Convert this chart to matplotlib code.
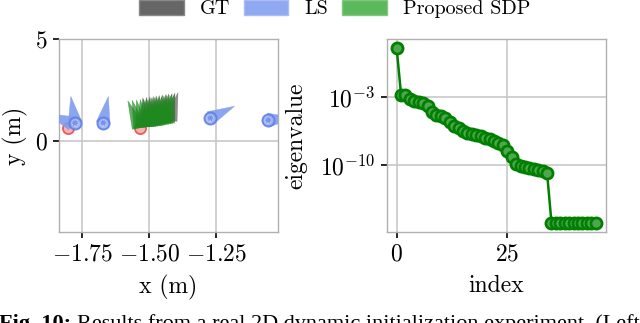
import numpy as np
import matplotlib
matplotlib.use("Agg")
import matplotlib.pyplot as plt
from matplotlib.patches import Patch
from matplotlib.collections import PolyCollection
from matplotlib.transforms import IdentityTransform

plt.rcParams['font.family'] = 'serif'
plt.rcParams['font.serif'] = ['cmr10']
plt.rcParams['mathtext.fontset'] = 'cm'
plt.rcParams['axes.formatter.use_mathtext'] = True
plt.rcParams['axes.unicode_minus'] = True

# ---------------- data ----------------
# LS poses (x, y in m; heading in screen degrees)
ls_x = [-1.790, -1.777, -1.672, -1.273, -1.057]
ls_y = [0.85, 0.87, 0.87, 1.11, 1.01]
ls_theta = [158, 99, 79, 26, 5]

# GT poses
gt_x = [-1.515, -1.507, -1.498, -1.489, -1.481, -1.472, -1.463, -1.454, -1.446, -1.437, -1.428, -1.420]
gt_y = [0.74, 0.76, 0.78, 0.80, 0.83, 0.85, 0.88, 0.91, 0.94, 0.97, 1.00, 1.03]
gt_theta = [95, 92, 90, 88, 86, 85, 83, 81, 80, 78, 77, 75]

# Proposed SDP poses
sdp_x = [-1.541, -1.535, -1.528, -1.521, -1.514, -1.507, -1.500, -1.493,
         -1.486, -1.479, -1.472, -1.465, -1.458, -1.451, -1.444, -1.437, -1.430]
sdp_y = [0.68, 0.66, 0.65, 0.66, 0.67, 0.69, 0.70, 0.72, 0.74, 0.76, 0.78,
         0.80, 0.83, 0.85, 0.88, 0.90, 0.93]
sdp_theta = [112, 106, 101, 97, 94, 92, 90, 89, 87, 86, 85, 84, 83, 82, 80, 79, 77]

# start markers
start_x = [-1.803, -1.534]
start_y = [0.62, 0.62]

# eigenvalues (log10)
eig_log10 = [2.1, -2.7, -2.75, -3.2, -3.35, -3.45, -3.6, -3.9, -4.5, -4.85,
             -4.95, -5.1, -5.5, -5.9, -6.2, -6.5, -6.7, -6.8, -6.9, -7.0,
             -7.15, -7.3, -7.45, -7.7, -7.95, -8.5, -9.1, -9.9, -10.1, -10.2,
             -10.25, -10.35, -10.45, -10.6, -10.8,
             -15.95, -15.95, -15.95, -15.95, -15.95, -15.95, -15.95, -15.95,
             -15.95, -15.95, -15.95]
eig_index = np.arange(len(eig_log10))
eigvals = 10.0 ** np.array(eig_log10)

legend_labels = ["GT", "LS", "Proposed SDP"]
caption_bold = "Fig. 10:"
caption_rest = "Results from a real 2D dynamic initialization experiment. (Left"

# ---------------- figure ----------------
fig = plt.figure(figsize=(6.4, 3.23), dpi=100)
FS = 17
SPINE = '#b0b0b0'
GRID = '#c8c8c8'

ax1 = fig.add_axes([0.0917, 0.2817, 0.434 - 0.0917, 0.880 - 0.2817])
ax2 = fig.add_axes([0.6042, 0.2817, 0.9464 - 0.6042, 0.880 - 0.2817])


def arrows(ax, xs, ys, th, color, alpha, z, L, W):
    verts = []
    for t in np.deg2rad(np.asarray(th, dtype=float)):
        d = np.array([np.cos(t), np.sin(t)])
        n = np.array([-np.sin(t), np.cos(t)])
        verts.append([n * W / 2, d * L, -n * W / 2])
    pc = PolyCollection(verts, offsets=np.column_stack([xs, ys]),
                        offset_transform=ax.transData,
                        transform=IdentityTransform(),
                        facecolor=color, edgecolor=color, linewidth=0.3,
                        alpha=alpha, zorder=z)
    ax.add_collection(pc, autolim=False)


ax1.set_xlim(-1.838, -1.021)
ax1.set_ylim(-4.475, 5)

ax1.scatter(start_x, start_y, s=65, facecolor='#f7a5a5', edgecolor='#ee4444',
            linewidth=1.3, zorder=2, alpha=0.85)
arrows(ax1, gt_x, gt_y, gt_theta, '#555555', 0.65, 3, 28, 13)
arrows(ax1, sdp_x, sdp_y, sdp_theta, '#1f8a1f', 0.7, 4, 28, 13)
arrows(ax1, ls_x, ls_y, ls_theta, '#7f9cee', 0.9, 5, 27, 14)
ax1.scatter(ls_x[1:], ls_y[1:], s=75, facecolor='#9db3f2', edgecolor='#5f7fe6',
            linewidth=1.4, zorder=6, alpha=0.9)
ax1.scatter(ls_x[1:], ls_y[1:], s=18, facecolor='#6f8ce8', edgecolor='#ffffff',
            linewidth=0.6, zorder=6, alpha=0.8, linestyle=':')

ax1.set_xticks([-1.75, -1.50, -1.25])
ax1.set_yticks([0, 5])
ax1.set_xticklabels([r'$-1.75$', r'$-1.50$', r'$-1.25$'])
ax1.set_yticklabels([r'$0$', r'$5$'])
ax1.set_xlabel('x (m)', fontsize=FS, labelpad=7)
ax1.set_ylabel('y (m)', fontsize=FS, labelpad=5)

ax2.plot(eig_index, eigvals, color='#008000', linewidth=1.8, marker='o',
         markersize=8, markerfacecolor='#4ea64e', markeredgecolor='#008000',
         markeredgewidth=2, zorder=3)
ax2.set_yscale('log')
ax2.set_xlim(-2.25, 47.25)
ax2.set_ylim(10 ** -16.9, 10 ** 3.07)
ax2.set_xticks([0, 25])
ax2.set_yticks([1e-3, 1e-10])
ax2.yaxis.set_minor_locator(matplotlib.ticker.NullLocator())
ax2.set_yticklabels([r'$10^{-3}$', r'$10^{-10}$'])
ax2.set_xlabel('index', fontsize=FS, labelpad=7)
ax2.set_ylabel('eigenvalue', fontsize=FS, labelpad=9)

for ax in (ax1, ax2):
    ax.grid(True, color=GRID, linewidth=1.2, zorder=0)
    ax.set_axisbelow(True)
    for s in ax.spines.values():
        s.set_color(SPINE)
        s.set_linewidth(1.0)
    ax.tick_params(labelsize=FS, length=4, width=1.2, color='black', pad=4)

handles = [Patch(facecolor='#666666', edgecolor='#888888'),
           Patch(facecolor='#8fa8f0', edgecolor='#aabbf5'),
           Patch(facecolor='#5cb85c', edgecolor='#80c880')]
fig.legend(handles, legend_labels, loc='center', bbox_to_anchor=(0.523, 0.972),
           ncol=3, frameon=False, fontsize=14.5, handlelength=2.2,
           handleheight=0.78, handletextpad=0.8, columnspacing=0.7)

# caption (cut off at bottom, as in the reference)
CFS = 16
base_y = 1 - 328.5 / 323
t1 = fig.text(-0.002, base_y, caption_bold, fontsize=CFS, fontweight='bold',
              family='Liberation Serif', va='baseline', ha='left')
r = fig.canvas.get_renderer()
bb = t1.get_window_extent(renderer=r)
x2 = (bb.x1 + 6) / fig.bbox.width
fig.text(x2, base_y, caption_rest, fontsize=CFS, family='Liberation Serif',
         va='baseline', ha='left')

fig.savefig('out.png', dpi=100)
